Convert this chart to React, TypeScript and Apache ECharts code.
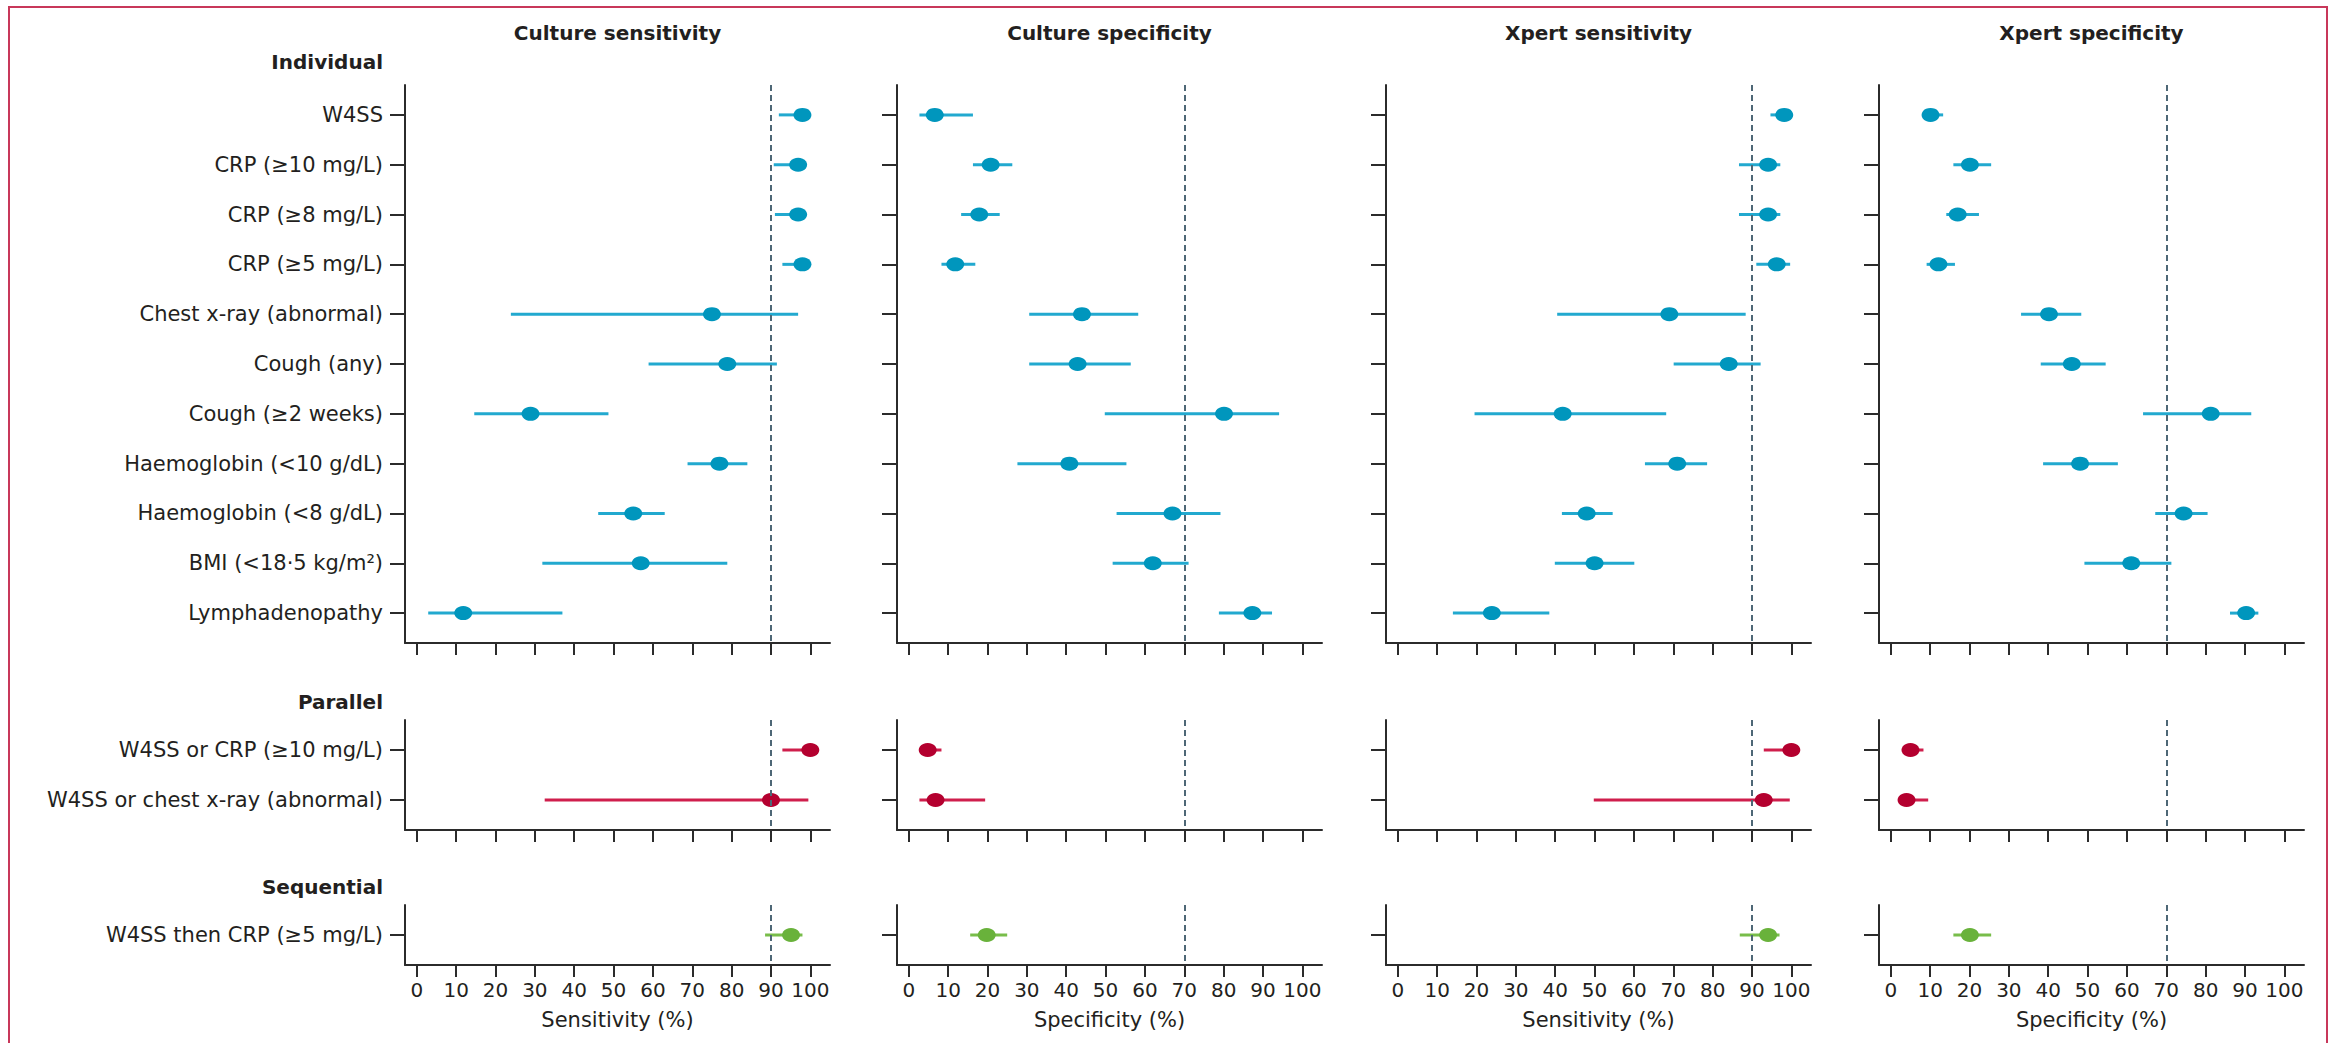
import React, { useEffect, useRef } from "react";
import * as echarts from "echarts";

// ---------- Data ----------
const panelTitles = ["Culture sensitivity", "Culture specificity", "Xpert sensitivity", "Xpert specificity"];
const axisNames = ["Sensitivity (%)", "Specificity (%)", "Sensitivity (%)", "Specificity (%)"];
const thresholds = [90, 70, 90, 70];
const xTicks = [0, 10, 20, 30, 40, 50, 60, 70, 80, 90, 100];

const sectionNames = ["Individual", "Parallel", "Sequential"];
const individualCats = [
  "W4SS",
  "CRP (≥10 mg/L)",
  "CRP (≥8 mg/L)",
  "CRP (≥5 mg/L)",
  "Chest x-ray (abnormal)",
  "Cough (any)",
  "Cough (≥2 weeks)",
  "Haemoglobin (<10 g/dL)",
  "Haemoglobin (<8 g/dL)",
  "BMI (<18·5 kg/m²)",
  "Lymphadenopathy",
];
const parallelCats = ["W4SS or CRP (≥10 mg/L)", "W4SS or chest x-ray (abnormal)"];
const sequentialCats = ["W4SS then CRP (≥5 mg/L)"];

// [estimate, lower, upper]
const cultureSensIndividual = [
  [98, 92, 99.5],
  [96.9, 90.7, 99],
  [96.9, 91, 99],
  [98, 92.9, 99.5],
  [75, 23.9, 96.9],
  [78.9, 58.9, 91.5],
  [28.9, 14.6, 48.7],
  [76.9, 68.8, 84],
  [55, 46.1, 63],
  [56.9, 31.9, 78.9],
  [11.8, 2.9, 37],
];
const cultureSensParallel = [
  [100, 92.9, 100],
  [90, 32.5, 99.5],
];
const cultureSensSequential = [[95.1, 88.5, 98]];

const cultureSpecIndividual = [
  [6.6, 2.7, 16.3],
  [20.8, 16.3, 26.3],
  [17.9, 13.3, 23.1],
  [11.8, 8.3, 16.9],
  [44, 30.6, 58.3],
  [42.9, 30.6, 56.4],
  [80.1, 49.8, 94.1],
  [40.8, 27.6, 55.3],
  [67, 52.8, 79.2],
  [62, 51.8, 71.1],
  [87.3, 78.8, 92.3],
];
const cultureSpecParallel = [
  [4.8, 3.1, 8.3],
  [6.8, 2.7, 19.4],
];
const cultureSpecSequential = [[19.8, 15.6, 25]];

const xpertSensIndividual = [
  [98.2, 94.7, 100],
  [94.1, 86.7, 97.2],
  [94.1, 86.7, 97.2],
  [96.3, 91.1, 99.7],
  [69, 40.5, 88.4],
  [84.1, 70.1, 92.2],
  [41.9, 19.5, 68.2],
  [71, 62.8, 78.6],
  [48, 41.7, 54.6],
  [50, 39.9, 60.1],
  [23.9, 14, 38.5],
];
const xpertSensParallel = [
  [100, 93, 100],
  [93, 49.8, 99.6],
];
const xpertSensSequential = [[94.1, 86.9, 97]];

const xpertSpecIndividual = [
  [10.1, 8.4, 13.3],
  [20.1, 15.9, 25.5],
  [17, 14.1, 22.4],
  [12.1, 9.1, 16.3],
  [40.2, 33.1, 48.4],
  [46, 38.1, 54.6],
  [81.3, 64.1, 91.6],
  [48.1, 38.7, 57.7],
  [74.4, 67.2, 80.5],
  [61.1, 49.2, 71.3],
  [90.3, 86.2, 93.4],
];
const xpertSpecParallel = [
  [5, 3.6, 8.3],
  [4, 2, 9.5],
];
const xpertSpecSequential = [[20.1, 15.9, 25.5]];

// ---------- Layout / style ----------
const FONT = "DejaVu Sans";
const TEXT = "#231f20";
const AXIS = "#2b2b2b";
const panelLefts = [405, 897, 1386, 1879];
const panelWidth = 425;
const rowTops = [85, 720, 905];
const rowHeights = [558, 110, 60];
const headingYs = [62, 702, 887];
const dotColors = ["#0096bd", "#b4002f", "#69b23b"];
const lineColors = ["#22a9cf", "#cf1e4c", "#78bd4a"];

const sectionCats = [individualCats, parallelCats, sequentialCats];
const panelData = [
  [cultureSensIndividual, cultureSensParallel, cultureSensSequential],
  [cultureSpecIndividual, cultureSpecParallel, cultureSpecSequential],
  [xpertSensIndividual, xpertSensParallel, xpertSensSequential],
  [xpertSpecIndividual, xpertSpecParallel, xpertSpecSequential],
];

function buildOption() {
  const grid: any[] = [];
  const xAxis: any[] = [];
  const yAxis: any[] = [];
  const series: any[] = [];
  const graphic: any[] = [];

  graphic.push({
    type: "rect",
    silent: true,
    z: -10,
    shape: { x: 9, y: 7, width: 2318, height: 1200 },
    style: { fill: "none", stroke: "#c8385a", lineWidth: 2 },
  });

  for (let c = 0; c < 4; c++) {
    graphic.push({
      type: "text",
      x: panelLefts[c] + panelWidth / 2,
      y: 33,
      style: {
        text: panelTitles[c],
        fontSize: 20,
        fontWeight: "bold",
        fontFamily: FONT,
        fill: TEXT,
        align: "center",
        verticalAlign: "middle",
        textAlign: "center",
        textVerticalAlign: "middle",
      },
    });
  }
  for (let r = 0; r < 3; r++) {
    graphic.push({
      type: "text",
      x: 383,
      y: headingYs[r],
      style: {
        text: sectionNames[r],
        fontSize: 20,
        fontWeight: "bold",
        fontFamily: FONT,
        fill: TEXT,
        align: "right",
        verticalAlign: "middle",
        textAlign: "right",
        textVerticalAlign: "middle",
      },
    });
  }

  for (let r = 0; r < 3; r++) {
    const cats = sectionCats[r];
    const idx = cats.map((_, i) => i);
    for (let c = 0; c < 4; c++) {
      const g = r * 4 + c;
      const rows = panelData[c][r];
      grid.push({ left: panelLefts[c], top: rowTops[r], width: panelWidth, height: rowHeights[r] });
      xAxis.push({
        gridIndex: g,
        type: "value",
        min: -3,
        max: 105,
        axisLine: { show: true, onZero: false, lineStyle: { color: AXIS, width: 2 } },
        axisTick: { show: true, customValues: xTicks, length: 12, lineStyle: { color: AXIS, width: 2 } },
        axisLabel: {
          show: r === 2,
          customValues: xTicks,
          margin: 15,
          fontSize: 20,
          fontFamily: FONT,
          color: TEXT,
        },
        splitLine: { show: false },
        name: r === 2 ? axisNames[c] : "",
        nameLocation: "middle",
        nameGap: 44,
        nameTextStyle: { fontSize: 21, fontFamily: FONT, color: TEXT },
      });
      yAxis.push({
        gridIndex: g,
        type: "value",
        inverse: true,
        min: -0.6,
        max: cats.length - 0.4,
        axisLine: { show: true, onZero: false, lineStyle: { color: AXIS, width: 2 } },
        axisTick: { show: true, customValues: idx, length: 15, lineStyle: { color: AXIS, width: 2 } },
        axisLabel: {
          show: c === 0,
          customValues: idx,
          formatter: (v: number) => cats[Math.round(v)] ?? "",
          margin: 22,
          fontSize: 21,
          fontFamily: FONT,
          color: TEXT,
        },
        splitLine: { show: false },
      });

      // threshold dashed line
      series.push({
        type: "line",
        xAxisIndex: g,
        yAxisIndex: g,
        data: [],
        z: 1,
        silent: true,
        markLine: {
          silent: true,
          symbol: "none",
          label: { show: false },
          lineStyle: { color: "#4e6776", type: [6, 4], width: 2 },
          data: [{ xAxis: thresholds[c] }],
        },
      });

      const lineColor = lineColors[r];
      series.push({
        type: "custom",
        xAxisIndex: g,
        yAxisIndex: g,
        z: 2,
        silent: true,
        data: rows.map((d, i) => [d[1], d[2], i]),
        encode: { x: [0, 1], y: 2 },
        renderItem: (params: any, api: any) => {
          const y = api.value(2);
          const p1 = api.coord([api.value(0), y]);
          const p2 = api.coord([api.value(1), y]);
          return {
            type: "line",
            shape: { x1: p1[0], y1: p1[1], x2: p2[0], y2: p2[1] },
            style: { stroke: lineColor, lineWidth: 3 },
          };
        },
      });

      series.push({
        type: "scatter",
        xAxisIndex: g,
        yAxisIndex: g,
        z: 3,
        silent: true,
        symbol: "circle",
        symbolSize: [18, 14],
        itemStyle: { color: dotColors[r], opacity: 1 },
        data: rows.map((d, i) => [d[0], i]),
      });
    }
  }

  return {
    animation: false,
    backgroundColor: "#ffffff",
    textStyle: { fontFamily: FONT },
    grid,
    xAxis,
    yAxis,
    series,
    graphic,
  };
}

export default function App() {
  const ref = useRef<HTMLDivElement>(null);
  useEffect(() => {
    if (!ref.current) return;
    const chart = echarts.init(ref.current, undefined, { renderer: "svg" });
    chart.setOption(buildOption() as any);
    return () => chart.dispose();
  }, []);
  return (
    <div
      ref={ref}
      style={{ position: "absolute", left: 0, top: 0, width: 2338, height: 1043, background: "#fff" }}
    />
  );
}
